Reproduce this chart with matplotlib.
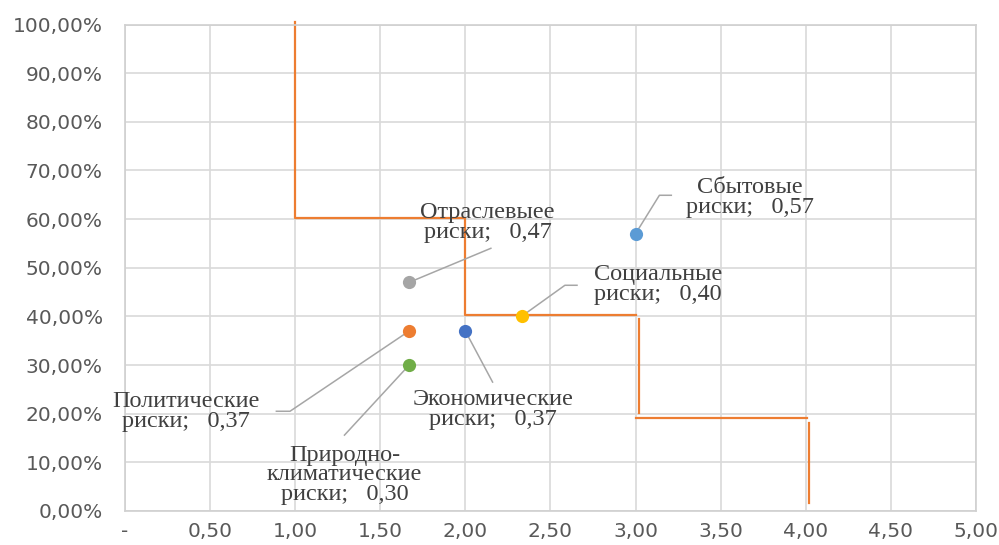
import numpy as np
import matplotlib
matplotlib.use("Agg")
import matplotlib.pyplot as plt

# risk groups: name, x score, probability
names = ["Сбытовые", "Отраслевыее", "Социальные", "Политические",
         "Природно-\nклиматические", "Экономические"]
x_vals = [3.00, 1.67, 2.33, 1.67, 1.67, 2.00]
y_vals = [0.57, 0.47, 0.40, 0.37, 0.30, 0.37]
colors = ["#5B9BD5", "#A5A5A5", "#FFC000", "#ED7D31", "#70AD47", "#4472C4"]

# label centres and leader line paths (point -> elbow -> end)
label_pos = [(3.67, 0.645), (2.13, 0.593), (3.13, 0.466),
             (0.36, 0.205), (1.29, 0.074), (2.16, 0.209)]
leaders = [[(3.14, 0.649), (3.21, 0.649)],
           [(2.15, 0.540)],
           [(2.585, 0.464), (2.656, 0.464)],
           [(0.97, 0.205), (0.89, 0.205)],
           [(1.29, 0.156)],
           [(2.16, 0.265)]]

# zone boundary (stepped line, drawn in pieces)
nan = np.nan
border_x = [1.0, 1.0, 2.0, 2.0, 3.0, nan, 3.02, 3.02, nan, 3.0, 4.01, nan, 4.02, 4.02]
border_y = [1.006, 0.603, 0.603, 0.402, 0.402, nan, 0.394, 0.201, nan,
            0.192, 0.192, nan, 0.181, 0.016]

x_ticks = [0, 0.5, 1, 1.5, 2, 2.5, 3, 3.5, 4, 4.5, 5]
x_labels = ["-"] + [f"{v:.2f}".replace(".", ",") for v in x_ticks[1:]]
y_ticks = np.arange(0, 1.01, 0.1)
y_labels = [f"{v * 100:.2f}%".replace(".", ",") for v in y_ticks]

fig = plt.figure(figsize=(9.99, 5.45), dpi=100)
ax = fig.add_axes([0.125, 0.0624, 0.852, 0.8926])

ax.set_xlim(0, 5)
ax.set_ylim(0, 1)
ax.set_xticks(x_ticks)
ax.set_xticklabels(x_labels)
ax.set_yticks(y_ticks)
ax.set_yticklabels(y_labels)
ax.tick_params(length=0, labelsize=14.5, labelcolor="#595959")
ax.tick_params(axis="x", pad=8)
ax.tick_params(axis="y", pad=16)
ax.grid(True, color="#d9d9d9", lw=1.2)
ax.set_axisbelow(True)
for s in ax.spines.values():
    s.set_color("#d0d0d0")
    s.set_linewidth(1.2)

ax.plot(border_x, border_y, color="#ED7D31", lw=1.6, clip_on=False, zorder=2)

for i in range(len(names)):
    px, py = x_vals[i], y_vals[i]
    path = [(px, py)] + leaders[i]
    ax.plot([p[0] for p in path], [p[1] for p in path], color="#a6a6a6", lw=1.1, zorder=3)
    ax.plot(px, py, "o", color=colors[i], ms=9.5, mec="none", zorder=4)
    val = f"{y_vals[i]:.2f}".replace(".", ",")
    lx, ly = label_pos[i]
    ax.text(lx, ly, f"{names[i]}\nриски;   {val}", ha="center", va="center",
            family="Liberation Serif", fontsize=17.5, color="#404040",
            linespacing=0.93, zorder=5)

fig.savefig("out.png", dpi=100)
